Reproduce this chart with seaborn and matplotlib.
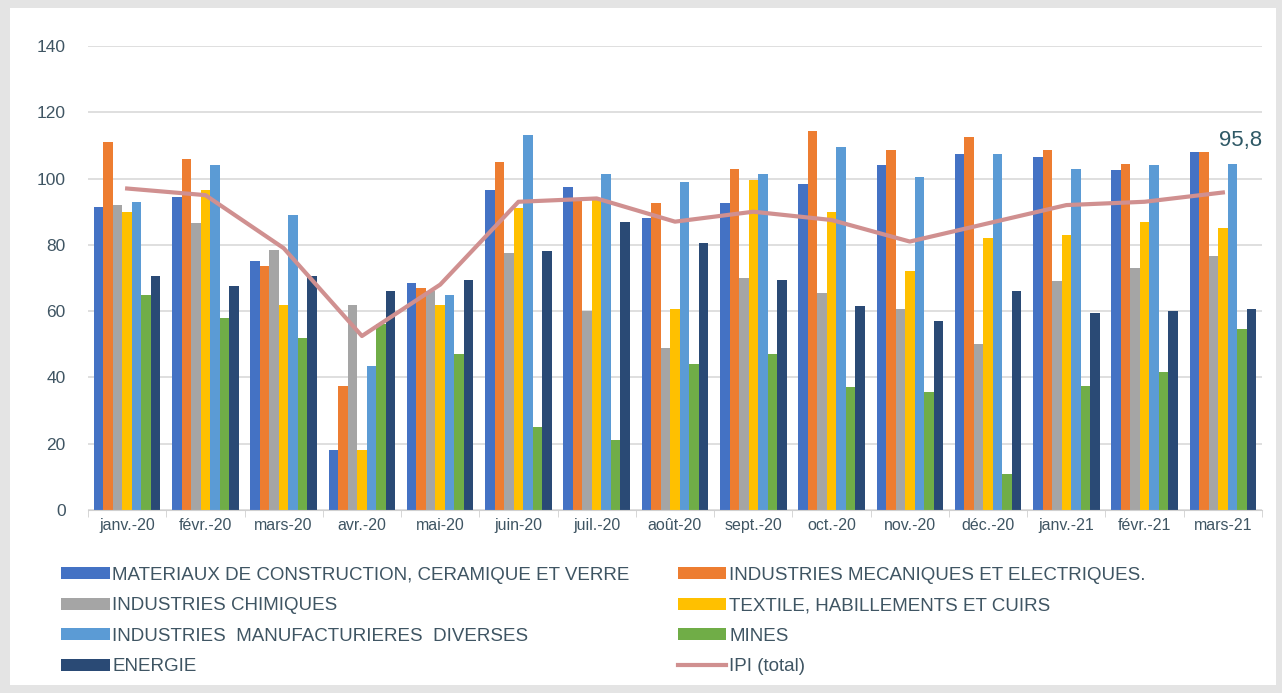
import numpy as np
import pandas as pd
import seaborn as sns
import matplotlib.pyplot as plt
from matplotlib.patches import Rectangle

# Données (indices de production industrielle)
mois = ['janv.-20', 'févr.-20', 'mars-20', 'avr.-20', 'mai-20', 'juin-20', 'juil.-20', 'août-20',
        'sept.-20', 'oct.-20', 'nov.-20', 'déc.-20', 'janv.-21', 'févr.-21', 'mars-21']

materiaux = [91.5, 94.5, 75, 18, 68.5, 96.5, 97.5, 88, 92.5, 98.5, 104, 107.5, 106.5, 102.5, 108]
mecaniques = [111, 106, 73.5, 37.5, 67, 105, 94, 92.5, 103, 114.5, 108.5, 112.5, 108.5, 104.5, 108]
chimiques = [92, 86.5, 78.5, 62, 66, 77.5, 60, 49, 70, 65.5, 60.5, 50, 69, 73, 76.5]
textile = [90, 96.5, 62, 18, 62, 91, 93.5, 60.5, 99.5, 90, 72, 82, 83, 87, 85]
diverses = [93, 104, 89, 43.5, 65, 113, 101.5, 99, 101.5, 109.5, 100.5, 107.5, 103, 104, 104.5]
mines = [65, 58, 52, 56, 47, 25, 21, 44, 47, 37, 35.5, 11, 37.5, 41.5, 54.5]
energie = [70.5, 67.5, 70.5, 66, 69.5, 78, 87, 80.5, 69.5, 61.5, 57, 66, 59.5, 60, 60.5]
ipi_total = [97, 95, 79, 52.5, 68, 93, 94, 87, 90, 87.5, 81, 86.5, 92, 93, 95.8]

secteurs = ['MATERIAUX DE CONSTRUCTION, CERAMIQUE ET VERRE',
            'INDUSTRIES MECANIQUES ET ELECTRIQUES.',
            'INDUSTRIES CHIMIQUES',
            'TEXTILE, HABILLEMENTS ET CUIRS',
            'INDUSTRIES  MANUFACTURIERES  DIVERSES',
            'MINES',
            'ENERGIE']
couleurs = ['#4472c4', '#ed7d31', '#a5a5a5', '#ffc000', '#5b9bd5', '#70ad47', '#2a4a75']

series = [materiaux, mecaniques, chimiques, textile, diverses, mines, energie]
df = pd.DataFrame({
    'mois': np.tile(mois, len(secteurs)),
    'secteur': np.repeat(secteurs, len(mois)),
    'valeur': np.concatenate(series),
})

texte = '#3f5563'
plt.rcParams['font.family'] = ['Liberation Sans', 'DejaVu Sans']

fig = plt.figure(figsize=(12.82, 6.93), dpi=100)
fig.patch.set_facecolor('#e4e4e4')
fig.patches.append(Rectangle((10 / 1282, 8 / 693), 1266 / 1282, 677 / 693,
                             transform=fig.transFigure, facecolor='white', edgecolor='none', zorder=-5))

ax = fig.add_axes([88 / 1282, 1 - 510 / 693, 1174 / 1282, 464 / 693])
ax.set_facecolor('white')

sns.barplot(data=df, x='mois', y='valeur', hue='secteur', order=mois, hue_order=secteurs,
            palette=couleurs, width=0.85, saturation=1, ax=ax, legend=True)
sns.lineplot(x=np.arange(len(mois)), y=ipi_total, color='#d09090', linewidth=3,
             ax=ax, label='IPI (total)')

ax.annotate('95,8', (len(mois) - 1, ipi_total[-1]), xytext=(len(mois) - 1 + 0.22, 111.5),
            textcoords='data', color='#2f5966', fontsize=16, ha='center', va='center',
            annotation_clip=False)

ax.set_ylim(0, 140)
ax.set_xlim(-0.5, len(mois) - 0.5)
ax.set_yticks(range(0, 141, 20))
ax.grid(axis='y', color='#d9d9d9', linewidth=1.2)
ax.set_axisbelow(True)
for s in ['top', 'right', 'left']:
    ax.spines[s].set_visible(False)
ax.spines['bottom'].set_color('#d0d0d0')
ax.set_xlabel('')
ax.set_ylabel('')
ax.tick_params(axis='y', length=0, pad=16, labelsize=12.5, labelcolor=texte)
ax.tick_params(axis='x', length=0, pad=6, labelsize=11.5, labelcolor=texte)
ax.set_xticks(np.arange(-0.5, len(mois), 1), minor=True)
ax.tick_params(axis='x', which='minor', length=5, color='#d0d0d0')

# légende en deux colonnes, lue ligne par ligne
handles, labels = ax.get_legend_handles_labels()
ax.get_legend().remove()
ordre = [0, 2, 4, 6, 1, 3, 5, 7]
fig.legend([handles[i] for i in ordre], [labels[i] for i in ordre],
           loc='upper left', bbox_to_anchor=(44 / 1282, 1 - 550 / 693),
           ncol=2, frameon=False, fontsize=13.5, labelcolor=texte, handlelength=2.6,
           handleheight=0.6, handletextpad=0.15, columnspacing=2.55, labelspacing=0.72)

fig.savefig('out.png', dpi=100, facecolor=fig.get_facecolor())
